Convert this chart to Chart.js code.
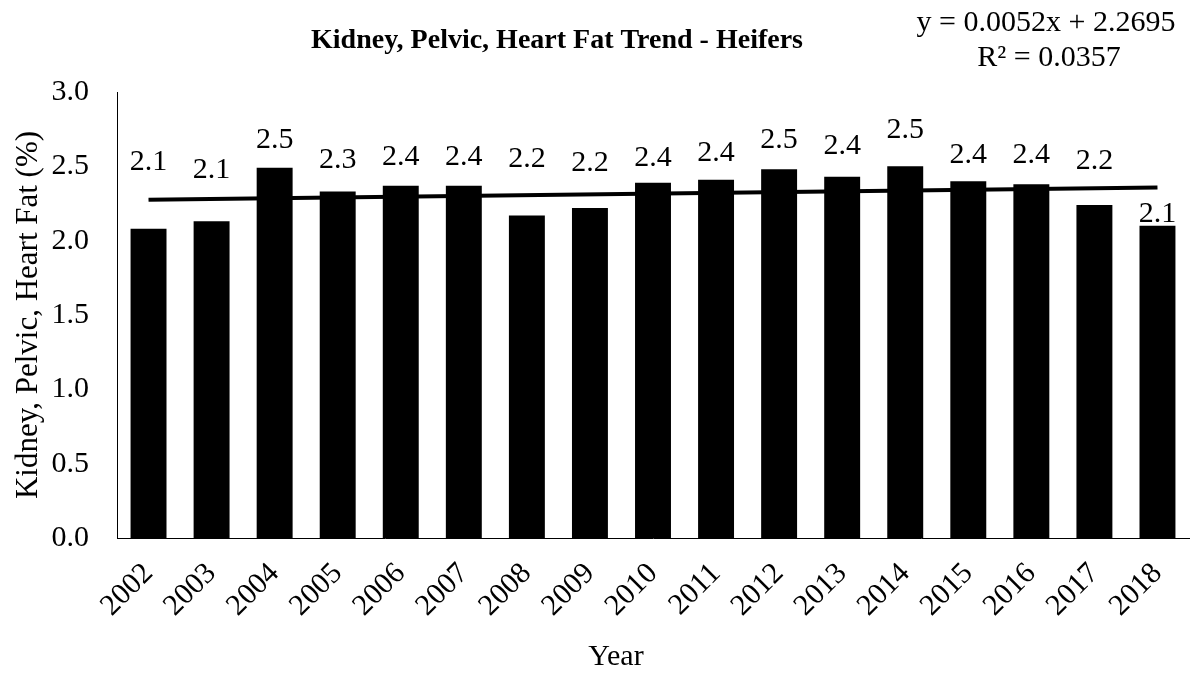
<!DOCTYPE html>
<html>
<head>
<meta charset="utf-8">
<script src="https://cdn.jsdelivr.net/npm/chart.js@4.4.1/dist/chart.umd.min.js"></script>
<style>
  html, body { margin: 0; padding: 0; background: #fff; }
  #wrap { width: 1198px; height: 673px; position: relative; }
</style>
</head>
<body>
<div id="wrap"><canvas id="grafico"></canvas></div>
<script>
// Datos
var anios = ["2002", "2003", "2004", "2005", "2006", "2007", "2008", "2009", "2010",
             "2011", "2012", "2013", "2014", "2015", "2016", "2017", "2018"];
var grasa_kph = [2.08, 2.13, 2.49, 2.33, 2.37, 2.37, 2.17, 2.22, 2.39,
                 2.41, 2.48, 2.43, 2.50, 2.40, 2.38, 2.24, 2.10];
// línea de tendencia: sólo extremos (y = 0.0052x + 2.2695)
var tendencia = [2.275, null, null, null, null, null, null, null, null,
                 null, null, null, null, null, null, null, 2.358];
var ticks_y = [0, 0.5, 1.0, 1.5, 2.0, 2.5, 3.0];
var titulo = "Kidney, Pelvic, Heart Fat Trend - Heifers";
var titulo_x = "Year";
var titulo_y = "Kidney, Pelvic, Heart Fat (%)";
var ecuacion = ["y = 0.0052x + 2.2695", "R² = 0.0357"];

var fuente = "'Liberation Serif', 'Times New Roman', serif";

// Desplazamiento vertical (px) de cada etiqueta respecto a la barra
var desplaz_etiquetas = [67, 51, 28, 31, 29, 29, 56, 45, 25, 27, 29, 31, 36, 26, 29, 44, 12];

var textos_plugin = {
    id: 'textos',
    afterDatasetsDraw: function(chart) {
        var ctx = chart.ctx;
        ctx.save();
        ctx.fillStyle = '#000';
        ctx.textAlign = 'center';
        ctx.textBaseline = 'middle';
        // etiquetas de datos
        ctx.font = "30px " + fuente;
        var meta = chart.getDatasetMeta(1);
        meta.data.forEach(function(barra, i) {
            ctx.fillText(grasa_kph[i].toFixed(1), barra.x, barra.y - desplaz_etiquetas[i]);
        });
        // título
        ctx.font = "bold 28px " + fuente;
        ctx.fillText(titulo, 557, 41);
        // ecuación de la tendencia
        ctx.font = "30px " + fuente;
        ctx.fillText(ecuacion[0], 1046, 23);
        ctx.fillText(ecuacion[1], 1049, 58);
        // título del eje x
        ctx.fillText(titulo_x, 616, 657);
        ctx.restore();
    }
};

var contexto = document.getElementById('grafico').getContext('2d');
var miGrafico = new Chart(contexto, {
    type: 'bar',
    data: {
        labels: anios,
        datasets: [{
            type: 'line',
            label: 'Tendencia',
            data: tendencia,
            borderColor: '#000',
            borderWidth: 4,
            pointRadius: 0,
            spanGaps: true,
            fill: false,
            order: 0
        }, {
            label: 'KPH',
            data: grasa_kph,
            backgroundColor: '#000',
            categoryPercentage: 1.0,
            barPercentage: 0.57,
            order: 1
        }]
    },
    options: {
        responsive: true,
        maintainAspectRatio: false,
        animation: false,
        layout: { padding: { top: 92, right: 9, left: 0, bottom: 0 } },
        plugins: {
            legend: { display: false },
            tooltip: { enabled: false },
            title: { display: false }
        },
        scales: {
            x: {
                grid: { display: false },
                border: { display: true, color: '#000', width: 1 },
                ticks: {
                    color: '#000',
                    font: { family: fuente, size: 30 },
                    minRotation: 45,
                    maxRotation: 45,
                    autoSkip: false,
                    padding: 10
                },
                afterFit: function(escala) { escala.height = 135; }
            },
            y: {
                min: 0,
                max: 3,
                grid: { display: false },
                border: { display: true, color: '#000', width: 1 },
                afterBuildTicks: function(escala) {
                    escala.ticks = ticks_y.map(function(v) { return { value: v }; });
                },
                ticks: {
                    color: '#000',
                    font: { family: fuente, size: 30 },
                    padding: 20,
                    callback: function(valor) { return Number(valor).toFixed(1); }
                },
                title: {
                    display: true,
                    text: titulo_y,
                    color: '#000',
                    font: { family: fuente, size: 31 },
                    padding: { top: 10, bottom: 0 }
                },
                afterFit: function(escala) { escala.width = 117; }
            }
        }
    },
    plugins: [textos_plugin]
});
</script>
</body>
</html>
